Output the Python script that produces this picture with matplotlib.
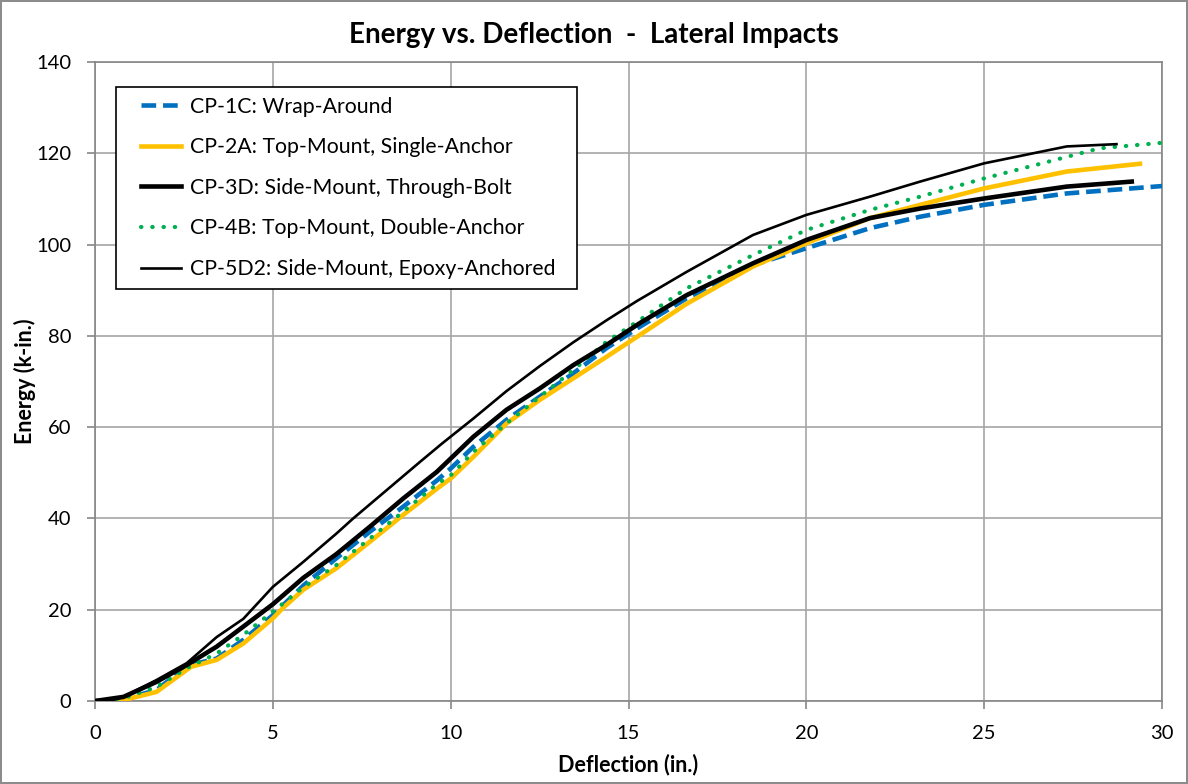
import matplotlib
matplotlib.use("Agg")
import matplotlib.pyplot as plt
from matplotlib.legend_handler import HandlerLine2D
from matplotlib.patches import Rectangle

plt.rcParams['font.family'] = ['Lato', 'DejaVu Sans']

# ---- data (deflection in., energy k-in.) ----
x_1c = [0, 0.8, 1.73, 2.58, 3.0, 3.42, 4.17, 5.0, 5.86, 6.79, 7.73, 8.67, 9.61, 10.01, 10.64, 11.57, 12.51, 13.45, 14.38, 15.32, 16.63, 18.5, 20.0, 21.79, 23.2, 25.0, 27.32, 30.3]
e_1c = [0, 0.4, 2.4, 7.6, 8.5, 9.3, 13.4, 18.8, 25.3, 31.3, 37.1, 42.6, 48.3, 51.0, 55.7, 61.6, 66.7, 71.8, 77.3, 82.0, 88.2, 95.5, 99.2, 103.6, 106.1, 108.7, 111.2, 113.0]

x_2a = [0, 0.8, 1.73, 2.7, 3.42, 4.17, 5.0, 5.3, 5.86, 6.79, 7.73, 8.67, 9.61, 10.01, 10.64, 11.57, 12.51, 13.45, 14.38, 15.32, 16.63, 18.5, 20.0, 21.79, 23.2, 25.0, 27.32, 29.38]
e_2a = [0, 0.2, 2.0, 7.5, 9.0, 12.6, 18.1, 20.5, 24.4, 29.1, 34.9, 40.8, 46.5, 48.8, 53.5, 60.8, 66.0, 70.7, 75.4, 80.2, 87.0, 95.2, 100.3, 105.8, 108.7, 112.3, 116.0, 117.7]

x_3d = [0, 0.8, 1.73, 2.58, 3.42, 4.17, 5.0, 5.86, 6.79, 7.73, 8.67, 9.61, 10.64, 11.57, 12.51, 13.45, 14.38, 15.32, 16.63, 18.5, 20.0, 21.79, 23.2, 25.0, 27.32, 29.15]
e_3d = [0, 0.9, 4.2, 7.9, 11.9, 16.3, 21.2, 27.0, 32.2, 38.2, 44.4, 50.2, 57.9, 63.8, 68.5, 73.6, 78.0, 82.8, 88.9, 95.9, 101.0, 105.8, 107.9, 110.1, 112.7, 113.8]

x_4b = [0, 0.8, 1.73, 2.58, 3.42, 4.17, 5.0, 5.86, 6.79, 7.73, 8.67, 9.61, 10.01, 10.64, 11.57, 12.51, 13.45, 14.38, 15.32, 16.63, 18.5, 20.0, 21.79, 23.2, 25.0, 28.25, 30.3]
e_4b = [0, 0.6, 3.1, 7.2, 10.4, 14.5, 19.6, 24.9, 29.8, 35.6, 41.5, 47.5, 49.5, 54.6, 60.8, 66.7, 72.5, 78.7, 83.5, 90.4, 97.7, 103.2, 107.6, 110.5, 114.5, 121.1, 122.5]

x_5d2 = [0, 0.5, 0.8, 1.73, 2.58, 3.42, 4.17, 5.0, 5.86, 6.79, 7.26, 8.2, 9.14, 9.74, 10.64, 11.57, 12.51, 13.45, 14.38, 15.23, 16.63, 18.5, 20.0, 21.79, 23.2, 25.0, 27.32, 28.72]
e_5d2 = [0, 0.2, 0.9, 4.6, 8.3, 14.0, 18.0, 25.0, 30.5, 36.7, 40.0, 46.2, 52.4, 56.3, 61.9, 67.9, 73.4, 78.6, 83.4, 87.6, 94.0, 102.1, 106.5, 110.5, 113.8, 117.8, 121.5, 122.0]

labels = ["CP-1C: Wrap-Around",
          "CP-2A: Top-Mount, Single-Anchor",
          "CP-3D: Side-Mount, Through-Bolt",
          "CP-4B: Top-Mount, Double-Anchor",
          "CP-5D2: Side-Mount, Epoxy-Anchored"]
x_ticks = [0, 5, 10, 15, 20, 25, 30]
y_ticks = [0, 20, 40, 60, 80, 100, 120, 140]

fig = plt.figure(figsize=(11.88, 7.84), dpi=100)
fig.patch.set_edgecolor('#8c8c8c')
fig.patch.set_linewidth(1.5)
ax = fig.add_axes([95/1188, 1-701/784, (1162-95)/1188, (701-62)/784])

ax.plot(x_1c, e_1c, color='#0070C0', lw=3.3, ls=(0, (3.2, 1.5)), label=labels[0], zorder=3)
ax.plot(x_2a, e_2a, color='#FFC000', lw=3.3, label=labels[1], zorder=3)
ax.plot(x_3d, e_3d, color='black', lw=3.3, label=labels[2], zorder=4)
ax.plot(x_4b, e_4b, color='#00B050', lw=3.0, ls=(0, (0.1, 2.6)), dash_capstyle='round',
        solid_capstyle='round', label=labels[3], zorder=3)
ax.plot(x_5d2, e_5d2, color='black', lw=1.9, label=labels[4], zorder=5)

ax.set_xlim(0, 30)
ax.set_ylim(0, 140)
ax.set_xticks(x_ticks)
ax.set_yticks(y_ticks)
ax.grid(True, color='#a6a6a6', lw=1.2)
ax.set_axisbelow(True)
for s in ax.spines.values():
    s.set_color('#868686')
    s.set_linewidth(1.2)
ax.tick_params(axis='both', colors='#868686', labelcolor='black', labelsize=14.5,
               direction='out', length=6, width=1.2)
ax.tick_params(axis='x', pad=11)
ax.tick_params(axis='y', pad=11)

fig.suptitle("Energy vs. Deflection  -  Lateral Impacts", x=0.5, y=1-35/784, va='center',
             fontsize=20, fontweight='bold')
ax.set_xlabel("Deflection (in.)", fontsize=15.5, fontweight='bold', labelpad=9)
ax.set_ylabel("Energy (k-in.)", fontsize=15.5, fontweight='bold', labelpad=0)

lfs = 15.3
handler = HandlerLine2D(xpad=0.16)
leg = ax.legend(loc='upper left', bbox_to_anchor=((116 + 12 - 95)/1067, (701-87)/639),
                fontsize=lfs, frameon=False, handlelength=2.04,
                handletextpad=0.42, labelspacing=0.97, borderpad=0.45, borderaxespad=0,
                handler_map={l: handler for l in ax.get_lines()})
leg.set_zorder(10)

# legend frame with wider horizontal padding
fig.canvas.draw()
bb = leg.get_window_extent()
frame = Rectangle((bb.x0 - 12, bb.y0), bb.width + 24, bb.height, transform=None,
                  facecolor='white', edgecolor='black', lw=1.2, zorder=9)
ax.add_artist(frame)

fig.savefig("out.png", dpi=100)
